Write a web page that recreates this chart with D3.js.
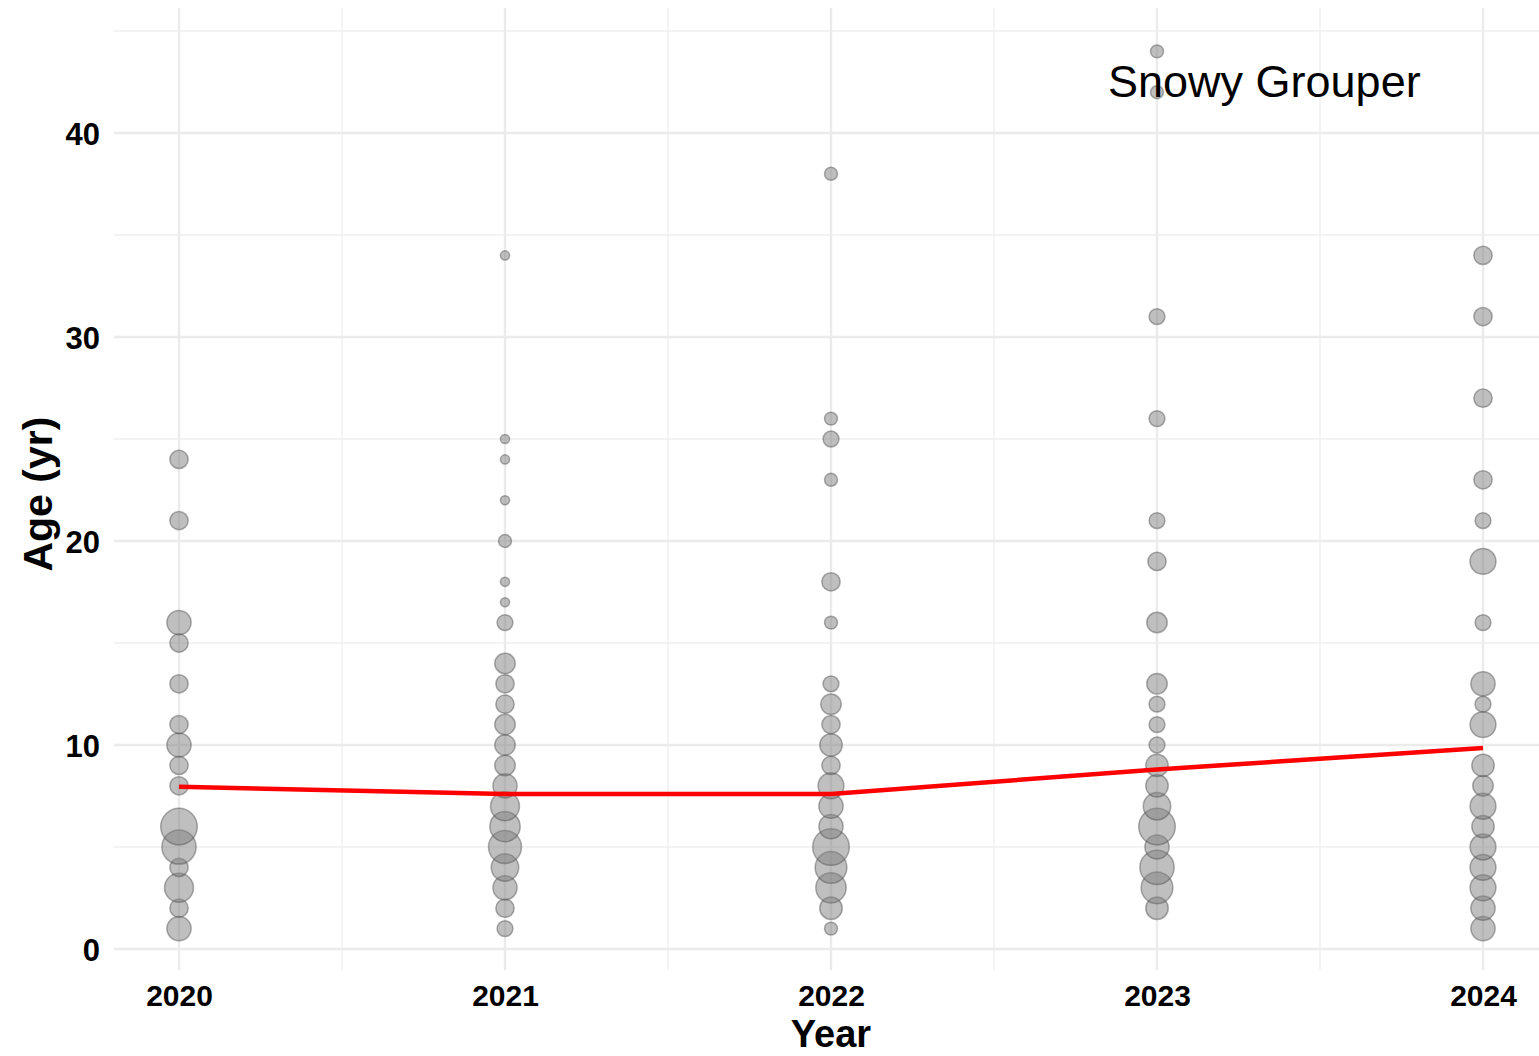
<!DOCTYPE html>
<html>
<head>
<meta charset="utf-8">
<script src="https://cdn.jsdelivr.net/npm/d3@7"></script>
<style>
  html, body { margin: 0; padding: 0; background: #fff; }
  svg { display: block; }
  text { font-family: "Liberation Sans", Arial, sans-serif; }
</style>
</head>
<body>
<svg id="chart" width="1539" height="1056"></svg>
<script>
// ---- Data ----
const years = [2020, 2021, 2022, 2023, 2024];

const ages2020 = [1, 2, 3, 4, 5, 6, 8, 9, 10, 11, 13, 15, 16, 21, 24];
const counts2020 = [7, 4, 10, 4, 14, 16, 4, 4, 7, 4, 4, 4, 7, 4, 4];

const ages2021 = [1, 2, 3, 4, 5, 6, 7, 8, 9, 10, 11, 12, 13, 14, 16, 17, 18, 20, 22, 24, 25, 34];
const counts2021 = [3, 4, 7, 9, 13, 11, 10, 7, 5, 5, 5, 4, 4, 5, 3, 1, 1, 2, 1, 1, 1, 1];

const ages2022 = [1, 2, 3, 4, 5, 6, 7, 8, 9, 10, 11, 12, 13, 16, 18, 23, 25, 26, 38];
const counts2022 = [2, 6, 11, 12, 16, 7, 7, 8, 4, 6, 4, 5, 3, 2, 4, 2, 3, 2, 2];

const ages2023 = [2, 3, 4, 5, 6, 7, 8, 9, 10, 11, 12, 13, 16, 19, 21, 26, 31, 42, 44];
const counts2023 = [6, 12, 14, 7, 16, 9, 6, 6, 3, 3, 3, 5, 5, 4, 3, 3, 3, 2, 2];

const ages2024 = [1, 2, 3, 4, 5, 6, 7, 8, 9, 11, 12, 13, 16, 19, 21, 23, 27, 31, 34];
const counts2024 = [7, 7, 8, 8, 8, 6, 8, 5, 6, 8, 3, 7, 3, 8, 3, 4, 4, 4, 4];

const meanAge = [7.95, 7.6, 7.6, 8.8, 9.85];

const yTicks = [0, 10, 20, 30, 40];
const yMinor = [5, 15, 25, 35, 45];
const xMinor = [2020.5, 2021.5, 2022.5, 2023.5];

const title = "Snowy Grouper";
const xTitle = "Year";
const yTitle = "Age (yr)";

// ---- Build points ----
const agesByYear = [ages2020, ages2021, ages2022, ages2023, ages2024];
const countsByYear = [counts2020, counts2021, counts2022, counts2023, counts2024];
const points = [];
years.forEach((yr, i) => {
  agesByYear[i].forEach((a, j) => points.push({ year: yr, age: a, n: countsByYear[i][j] }));
});

// ---- Layout ----
const svg = d3.select("#chart");
const panel = { left: 114, right: 1539, top: 8, bottom: 970 };

const x = d3.scaleLinear().domain([2020, 2024]).range([179, 1483]);
const y = d3.scaleLinear().domain([0, 40]).range([949, 133]);
const r = d3.scaleSqrt().domain([0, 16]).range([0, 18.3]);

// Grid
const grid = svg.append("g");
grid.selectAll(".hmin").data(yMinor).join("line")
  .attr("x1", panel.left).attr("x2", panel.right)
  .attr("y1", d => y(d)).attr("y2", d => y(d))
  .attr("stroke", "#efefef").attr("stroke-width", 1.3);
grid.selectAll(".vmin").data(xMinor).join("line")
  .attr("x1", d => x(d)).attr("x2", d => x(d))
  .attr("y1", panel.top).attr("y2", panel.bottom)
  .attr("stroke", "#efefef").attr("stroke-width", 1.3);
grid.selectAll(".hmaj").data(yTicks).join("line")
  .attr("x1", panel.left).attr("x2", panel.right)
  .attr("y1", d => y(d)).attr("y2", d => y(d))
  .attr("stroke", "#ebebeb").attr("stroke-width", 2.4);
grid.selectAll(".vmaj").data(years).join("line")
  .attr("x1", d => x(d)).attr("x2", d => x(d))
  .attr("y1", panel.top).attr("y2", panel.bottom)
  .attr("stroke", "#ebebeb").attr("stroke-width", 2.4);

// Axes (labels only, ggplot minimal style)
const yAxis = d3.axisLeft(y).tickValues(yTicks).tickSize(0).tickPadding(14);
const yg = svg.append("g").attr("transform", `translate(${panel.left},0)`).call(yAxis);
yg.select(".domain").remove();
yg.selectAll("text").attr("font-size", 31).attr("font-weight", "bold").attr("fill", "#000")
  .attr("font-family", "'Liberation Sans', Arial, sans-serif").attr("dy", "0.36em");

const xAxis = d3.axisBottom(x).tickValues(years).tickFormat(d3.format("d")).tickSize(0).tickPadding(15);
const xg = svg.append("g").attr("transform", `translate(0,${panel.bottom})`).call(xAxis);
xg.select(".domain").remove();
xg.selectAll("text").attr("font-size", 30).attr("font-weight", "bold").attr("fill", "#000")
  .attr("font-family", "'Liberation Sans', Arial, sans-serif").attr("dy", "0.71em");

// Bubbles
svg.append("g").selectAll("circle").data(points).join("circle")
  .attr("cx", d => x(d.year))
  .attr("cy", d => y(d.age))
  .attr("r", d => r(d.n))
  .attr("fill", "#808080").attr("fill-opacity", 0.5)
  .attr("stroke", "#4d4d4d").attr("stroke-opacity", 0.45).attr("stroke-width", 1.5);

// Mean line
const line = d3.line().x((d, i) => x(years[i])).y(d => y(d));
svg.append("path").datum(meanAge)
  .attr("d", line).attr("fill", "none")
  .attr("stroke", "#ff0000").attr("stroke-width", 4.5);

// Titles
svg.append("text").attr("x", x(2022)).attr("y", 1047)
  .attr("text-anchor", "middle").attr("font-size", 38).attr("font-weight", "bold")
  .text(xTitle);
svg.append("text").attr("transform", `translate(52,${y(22.3)}) rotate(-90)`)
  .attr("text-anchor", "middle").attr("font-size", 41).attr("font-weight", "bold")
  .text(yTitle);
svg.append("text").attr("x", 1108).attr("y", 97)
  .attr("font-size", 45).attr("fill", "#000")
  .text(title);
</script>
</body>
</html>
